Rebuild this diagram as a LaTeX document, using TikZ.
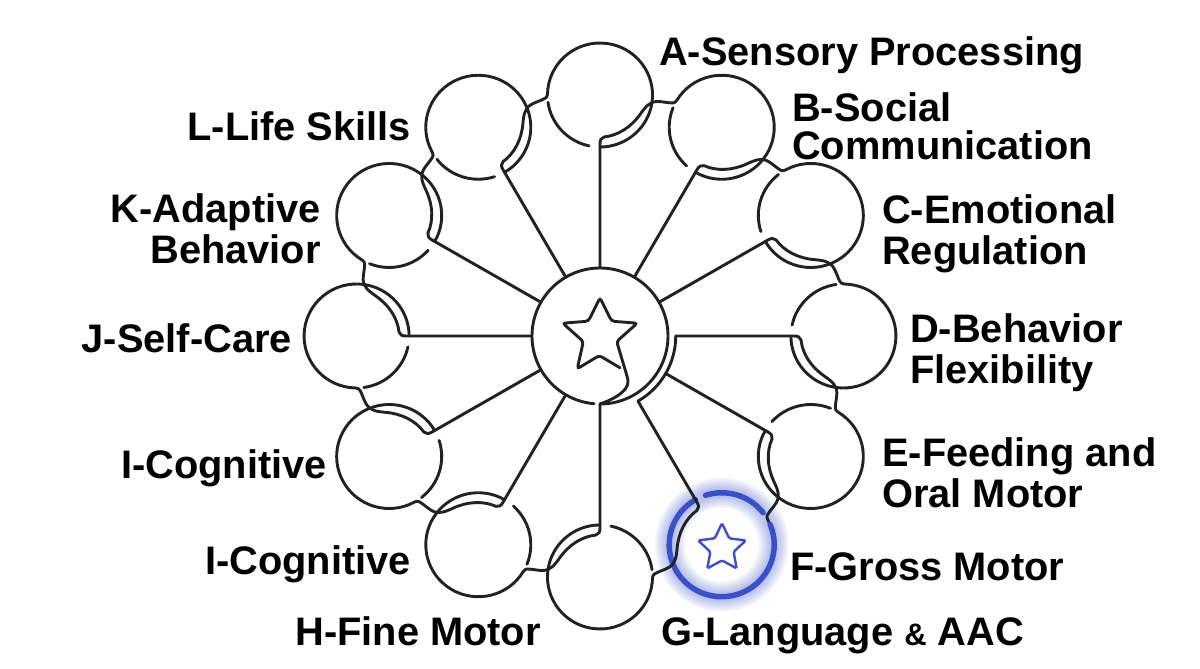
\documentclass[tikz,border=0pt]{standalone}
\usepackage{fontspec}
\setmainfont{Liberation Sans}
\usetikzlibrary{shapes.geometric}
\definecolor{ink}{RGB}{34,34,36}
\definecolor{accent}{RGB}{58,80,200}
\begin{document}
\begin{tikzpicture}[x=1pt, y=1pt,
        ring_line/.style={line width=2.9pt, color=ink, line cap=round},
        accent_ring/.style={line width=5.5pt, color=accent, line cap=round},
        label_node/.style={font=\bfseries\fontsize{39.8}{41.5}\selectfont, color=black, inner sep=0pt},
        label_left/.style={label_node, anchor=base west, align=left},
        label_right/.style={label_node, anchor=base east, align=right}
    ]
    \useasboundingbox (0,0) rectangle (1200,669);
    \coordinate (hub) at (600,333);

    % Anchors of the twelve satellites
    \foreach \sat/\rot/\rimr in {c12/0/68, c1/-30/68, c2/-60/68, c3/-90/75, c4/-120/76, c5/-150/75,
                                 c6/-180/68, c7/-210/68, c8/-240/68, c9/-270/68, c10/-300/68, c11/-330/68}{
        \begin{scope}[shift={(hub)}, xscale=1.01, rotate=\rot]
            \coordinate (\sat) at (0,241);
            \coordinate (\sat-rim) at (0,\rimr);
            \coordinate (\sat-foot) at (0,192);
            \coordinate (\sat-entry) at (-51.6,247.3);
        \end{scope}
    }

    % Glow
    \foreach \gw in {30,27,24,21,18,15,12,9}{
        \draw[accent, opacity=.05, line width=\gw pt] (c5) circle[radius=52];
    }

    % Satellites
    \foreach \sat/\rot/\nxt/\ringsty in {c12/0/c1/ring_line, c1/-30/c2/ring_line, c2/-60/c3/ring_line,
                                         c3/-90/c4/ring_line, c4/-120/c5/ring_line, c5/-150/c6/accent_ring,
                                         c6/-180/c7/ring_line, c7/-210/c8/ring_line, c8/-240/c9/ring_line,
                                         c9/-270/c10/ring_line, c10/-300/c11/ring_line, c11/-330/c12/ring_line}{
        \begin{scope}[shift={(hub)}, xscale=1.01, rotate=\rot]
            \draw[\ringsty] (\sat-entry) arc[start angle=173, end angle=-90, radius=52];
            \draw[\ringsty] (\sat) ++(188:52) arc[start angle=188, end angle=258, radius=52];
            \draw[ring_line] (\sat-rim) -- (\sat-foot)
                .. controls (0,196) and (1,198) .. (4,199)
                .. controls (18,200.5) and (31,209) .. (40,222)
                .. controls (45,229) and (49,234.5) .. (57,234.5)
                .. controls (62,234.5) and (67,233) .. (72,233)
                .. controls (75,233) and (76.5,236.5) .. (\nxt-entry);
        \end{scope}
    }

    % Hub
    \draw[ring_line] (c6-rim) arc[start angle=-90, end angle=265, radius=68];
    \draw[ring_line] (c3-rim) arc[start angle=0, end angle=-60, radius=75];

    % Star with its tail
    \begin{scope}[shift={(hub)}]
        \draw[ring_line, rounded corners=3pt] (20,-31.8) -- (-0.7,-19.5) -- (-22.7,-32.8) -- (-16.7,-5.5)
            -- (-37.3,12.8) -- (-11.7,14.8) -- (0,38.2) -- (11.7,14.8) -- (37.3,12.8) -- (16.7,-5.5)
            -- (27,-40) .. controls (30,-52) and (20,-61) .. (c6-rim);
    \end{scope}
    \node[star, star points=5, star point ratio=2.05, draw=accent, line width=2.4pt, rounded corners=1.5pt,
          inner sep=0pt, minimum size=50pt] (small_star) at (722,120.8) {};

    % Labels
    \node[label_left] (lab_a) at (659,603) {A-Sensory Processing};
    \node[label_left] (lab_b) at (792,509) {B-Social\\[-3pt]Communication};
    \node[label_left] (lab_c) at (882,404) {C-Emotional\\Regulation};
    \node[label_left] (lab_d) at (910,285) {D-Behavior\\Flexibility};
    \node[label_left] (lab_e) at (882,161) {E-Feeding and\\Oral Motor};
    \node[label_left] (lab_f) at (790,88) {F-Gross Motor};
    \node[label_left] (lab_g) at (661,23) {G-Language {\fontsize{31}{33}\selectfont\&} AAC};
    \node[label_right] (lab_h) at (541,23) {H-Fine Motor};
    \node[label_right] (lab_i2) at (411,94) {I-Cognitive};
    \node[label_right] (lab_i1) at (327,190) {I-Cognitive};
    \node[label_right] (lab_j) at (292,316) {J-Self-Care};
    \node[label_right] (lab_k) at (321,405) {K-Adaptive\\Behavior};
    \node[label_right] (lab_l) at (411,528) {L-Life Skills};
\end{tikzpicture}
\end{document}
